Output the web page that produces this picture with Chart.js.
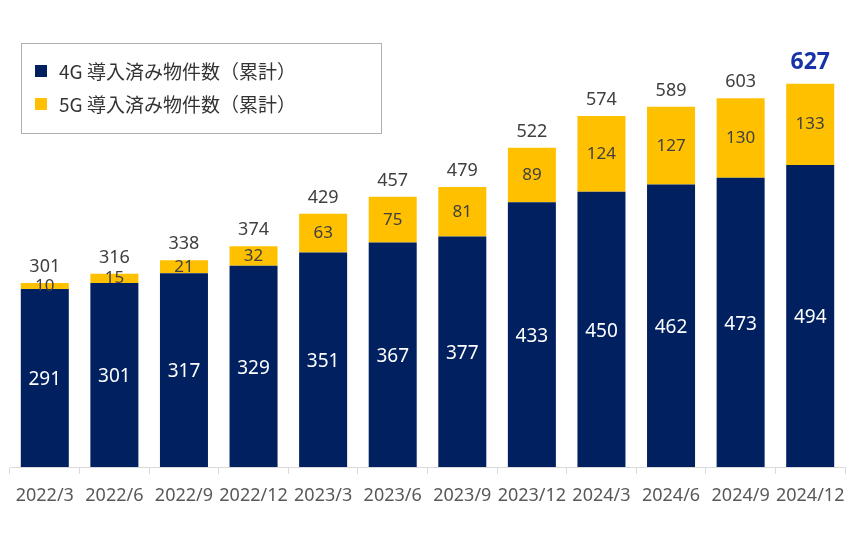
<!DOCTYPE html>
<html><head><meta charset="utf-8">
<script src="https://cdn.jsdelivr.net/npm/chart.js@4.4.1/dist/chart.umd.min.js"></script>
<style>
html,body{margin:0;padding:0;background:#fff;}
#wrap{position:relative;width:860px;height:538px;}
#legend{position:absolute;left:21px;top:43px;width:361px;height:91px;border:1px solid #b0b0b0;box-sizing:border-box;font-family:"Noto Sans CJK JP","Noto Sans",sans-serif;font-size:19px;color:#333;}
.li{position:absolute;left:13px;display:flex;align-items:center;}
.sw{width:12px;height:12px;margin-right:12px;}
</style></head>
<body><div id="wrap"><canvas id="c" width="860" height="538"></canvas><div id="legend"></div></div>
<script>
const categories = ["2022/3","2022/6","2022/9","2022/12","2023/3","2023/6","2023/9","2023/12","2024/3","2024/6","2024/9","2024/12"];
const series4G = [291,301,317,329,351,367,377,433,450,462,473,494];
const series5G = [10,15,21,32,63,75,81,89,124,127,130,133];
const totals = [301,316,338,374,429,457,479,522,574,589,603,627];
const seriesNames = ["4G 導入済み物件数（累計）","5G 導入済み物件数（累計）"];
const colors = ["#002060","#FFC000"];

const labelPlugin = {
  id:'labels',
  afterDatasetsDraw(chart){
    const ctx = chart.ctx;
    ctx.save();
    ctx.textAlign='center';ctx.textBaseline='middle';
    const m0 = chart.getDatasetMeta(0), m1 = chart.getDatasetMeta(1);
    m0.data.forEach((b,i)=>{
      ctx.fillStyle='#ffffff';
      ctx.font='19px "Noto Sans","Open Sans",sans-serif';
      ctx.fillText(String(series4G[i]), b.x, (b.y+b.base)/2+2);
    });
    m1.data.forEach((b,i)=>{
      ctx.fillStyle='#404040';
      ctx.font='17px "Noto Sans","Open Sans",sans-serif';
      ctx.fillText(String(series5G[i]), b.x, (b.y+b.base)/2);
      const last = i===totals.length-1;
      if(last){
        ctx.fillStyle='#1633A8';
        ctx.font='bold 23px "Noto Sans","Open Sans",sans-serif';
        ctx.fillText(String(totals[i]), b.x, b.y-21);
      } else {
        ctx.fillStyle='#404040';
        ctx.font='18px "Noto Sans","Open Sans",sans-serif';
        ctx.fillText(String(totals[i]), b.x, b.y-16);
      }
    });
    ctx.restore();
  }
};

new Chart(document.getElementById('c'),{
  type:'bar',
  data:{labels:categories,datasets:[
    {label:seriesNames[0],data:series4G,backgroundColor:colors[0],categoryPercentage:0.69,barPercentage:1},
    {label:seriesNames[1],data:series5G,backgroundColor:colors[1],categoryPercentage:0.69,barPercentage:1}
  ]},
  options:{
    responsive:false,animation:false,
    layout:{padding:{left:10,right:15,top:39,bottom:0}},
    plugins:{legend:{display:false},tooltip:{enabled:false}},
    scales:{
      x:{stacked:true,
        grid:{drawOnChartArea:false,drawTicks:true,tickLength:7,color:'#d9d9d9'},
        border:{color:'#d9d9d9'},
        ticks:{color:'#595959',font:{size:18,family:'"Noto Sans","Open Sans",sans-serif'},padding:11,maxRotation:0,autoSkip:false},
        afterFit(s){s.height=71;}
      },
      y:{stacked:true,display:false,min:0,max:700}
    }
  },
  plugins:[labelPlugin]
});

const lg=document.getElementById('legend');
seriesNames.forEach((n,i)=>{
  const d=document.createElement('div');d.className='li';d.style.top=(i===0?13:46)+'px';
  d.innerHTML='<span class="sw" style="background:'+colors[i]+'"></span><span>'+n+'</span>';
  lg.appendChild(d);
});
</script></body></html>
